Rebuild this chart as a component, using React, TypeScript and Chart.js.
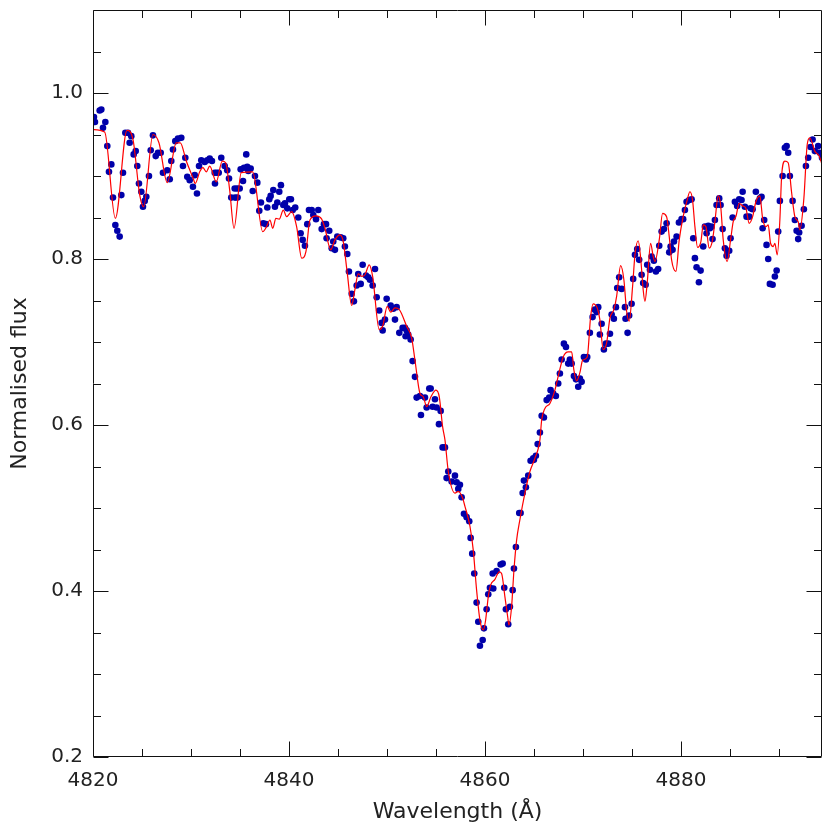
import React, { useEffect, useRef } from 'react';
import { Chart, registerables } from 'chart.js';

Chart.register(...registerables);

// Tick values (wavelength in Å, normalised flux)
const xMajorTicks = [4820, 4840, 4860, 4880];
const xMinorTicks = [4825, 4830, 4835, 4845, 4850, 4855, 4865, 4870, 4875, 4885, 4890];
const yMajorTicks = [0.2, 0.4, 0.6, 0.8, 1.0];
const yMinorTicks = [0.25, 0.3, 0.35, 0.45, 0.5, 0.55, 0.65, 0.7, 0.75, 0.85, 0.9, 0.95, 1.05];

// Observed spectrum (blue dots)
const obsWave = [
  4820.10, 4820.20, 4820.68, 4820.85, 4821.26, 4821.02, 4821.46, 4821.87, 4821.63, 4822.04,
  4822.28, 4822.48, 4822.72, 4822.89, 4823.06, 4823.30, 4823.57, 4823.91, 4823.74, 4824.36,
  4824.15, 4824.52, 4824.69, 4824.93, 4825.10, 4825.28, 4825.44, 4825.71, 4825.89, 4826.12,
  4826.40, 4826.63, 4826.91, 4827.14, 4827.58, 4827.83, 4827.99, 4828.16, 4828.40, 4828.67,
  4829.01, 4829.42, 4829.18, 4829.62, 4829.87, 4830.20, 4830.61, 4830.38, 4830.82, 4831.05,
  4831.40, 4831.66, 4831.91, 4832.14, 4832.42, 4832.62, 4832.83, 4832.45, 4833.09, 4833.44,
  4833.70, 4833.88, 4834.11, 4834.46, 4834.72, 4834.97, 4834.50, 4834.75, 4835.07, 4835.41,
  4835.31, 4835.64, 4835.74, 4836.09, 4835.85, 4836.53, 4836.77, 4836.30, 4837.14, 4836.97,
  4837.38, 4837.65, 4837.79, 4837.99, 4838.13, 4838.40, 4838.57, 4838.81, 4839.01, 4839.18,
  4839.42, 4839.59, 4839.83, 4840.03, 4840.20, 4840.38, 4840.64, 4840.95, 4841.19, 4841.40,
  4841.63, 4841.87, 4842.04, 4842.32, 4842.48, 4842.76, 4842.99, 4843.34, 4843.57, 4843.78,
  4844.11, 4843.84, 4844.36, 4844.69, 4844.52, 4844.93, 4845.28, 4845.54, 4845.71, 4845.95,
  4846.12, 4846.40, 4846.63, 4846.91, 4847.07, 4847.32, 4847.52, 4847.86, 4848.09, 4848.27,
  4848.54, 4848.95, 4849.97, 4848.78, 4849.21, 4849.46, 4849.80, 4849.56, 4850.38, 4850.64,
  4850.99, 4850.82, 4851.26, 4851.60, 4851.84, 4852.01, 4851.90, 4852.17, 4852.42, 4852.62,
  4852.86, 4853.03, 4853.37, 4853.88, 4854.32, 4854.46, 4854.05, 4853.47, 4854.90, 4854.66,
  4855.07, 4855.48, 4855.31, 4855.68, 4855.92, 4856.26, 4856.09, 4856.60, 4856.94, 4857.11,
  4857.45, 4857.28, 4857.62, 4857.86, 4858.13, 4858.40, 4858.54, 4858.70, 4858.91, 4859.15,
  4859.32, 4859.90, 4859.77, 4859.49, 4860.17, 4860.34, 4860.51, 4860.85, 4860.79, 4861.19,
  4861.60, 4861.81, 4861.97, 4862.14, 4862.55, 4862.38, 4862.83, 4862.96, 4863.16, 4863.50,
  4863.64, 4863.85, 4864.18, 4863.98, 4864.42, 4864.66, 4864.93, 4865.20, 4865.00, 4865.38,
  4865.61, 4865.79, 4866.02, 4866.30, 4866.56, 4866.70, 4866.97, 4867.24, 4867.48, 4867.65,
  4867.83, 4868.06, 4868.27, 4868.50, 4868.67, 4868.85, 4869.08, 4869.29, 4869.69, 4869.52,
  4869.87, 4870.10, 4870.44, 4870.31, 4870.71, 4870.99, 4871.22, 4871.56, 4871.40, 4871.91,
  4871.73, 4872.14, 4872.35, 4872.58, 4872.76, 4872.93, 4873.16, 4873.37, 4874.29, 4874.56,
  4874.35, 4874.72, 4874.97, 4875.13, 4873.50, 4873.95, 4873.70, 4875.31, 4875.54, 4875.74,
  4875.99, 4876.15, 4876.40, 4876.56, 4876.84, 4877.01, 4877.24, 4877.45, 4877.68, 4877.79,
  4878.03, 4878.27, 4878.54, 4878.81, 4879.15, 4878.95, 4879.29, 4879.56, 4879.80, 4880.07,
  4880.23, 4880.41, 4880.58, 4880.85, 4881.09, 4881.26, 4881.43, 4881.60, 4882.01, 4881.84,
  4882.28, 4882.45, 4882.79, 4882.96, 4883.13, 4882.62, 4883.23, 4883.47, 4883.64, 4883.91,
  4884.05, 4884.26, 4884.49, 4884.72, 4884.93, 4884.66, 4885.07, 4885.28, 4885.51, 4885.74,
  4885.95, 4886.19, 4886.30, 4886.53, 4886.70, 4886.97, 4887.11, 4887.32, 4887.65, 4887.89,
  4888.06, 4888.23, 4888.34, 4888.50, 4888.74, 4888.91, 4889.77, 4889.59, 4889.08, 4889.36,
  4889.93, 4890.10, 4890.38, 4891.12, 4890.61, 4890.79, 4890.95, 4891.40, 4891.63, 4891.81,
  4892.07, 4891.97, 4892.32, 4892.55, 4892.76, 4892.99, 4893.23, 4893.44, 4893.67, 4894.01,
  4894.18, 4894.40,
];

const obsFlux = [
  0.971, 0.965, 0.979, 0.980, 0.965, 0.958, 0.936, 0.914, 0.905, 0.874,
  0.841, 0.834, 0.827, 0.877, 0.904, 0.952, 0.952, 0.948, 0.940, 0.930,
  0.926, 0.912, 0.891, 0.881, 0.863, 0.870, 0.875, 0.900, 0.931, 0.949,
  0.924, 0.928, 0.928, 0.904, 0.907, 0.896, 0.918, 0.932, 0.942, 0.945,
  0.946, 0.922, 0.912, 0.899, 0.895, 0.887, 0.879, 0.901, 0.912, 0.919,
  0.917, 0.919, 0.921, 0.918, 0.904, 0.904, 0.904, 0.891, 0.922, 0.912,
  0.907, 0.897, 0.874, 0.885, 0.885, 0.885, 0.874, 0.874, 0.908, 0.910,
  0.894, 0.926, 0.911, 0.909, 0.906, 0.900, 0.892, 0.882, 0.868, 0.858,
  0.843, 0.842, 0.862, 0.872, 0.876, 0.883, 0.863, 0.868, 0.881, 0.889,
  0.865, 0.867, 0.861, 0.872, 0.872, 0.859, 0.862, 0.850, 0.831, 0.823,
  0.816, 0.842, 0.859, 0.859, 0.853, 0.848, 0.859, 0.836, 0.842, 0.842,
  0.834, 0.825, 0.813, 0.811, 0.821, 0.827, 0.826, 0.825, 0.815, 0.806,
  0.785, 0.758, 0.749, 0.768, 0.782, 0.770, 0.793, 0.780, 0.778, 0.775,
  0.768, 0.754, 0.752, 0.788, 0.738, 0.723, 0.727, 0.714, 0.744, 0.740,
  0.742, 0.727, 0.711, 0.717, 0.717, 0.714, 0.707, 0.709, 0.703, 0.677,
  0.658, 0.633, 0.635, 0.633, 0.644, 0.644, 0.621, 0.612, 0.631, 0.622,
  0.621, 0.617, 0.601, 0.573, 0.573, 0.544, 0.536, 0.532, 0.539, 0.531,
  0.528, 0.523, 0.513, 0.493, 0.489, 0.484, 0.464, 0.445, 0.421, 0.386,
  0.363, 0.355, 0.341, 0.334, 0.378, 0.396, 0.404, 0.403, 0.421, 0.424,
  0.432, 0.433, 0.404, 0.378, 0.381, 0.360, 0.401, 0.427, 0.453, 0.494,
  0.494, 0.518, 0.525, 0.533, 0.539, 0.557, 0.560, 0.563, 0.558, 0.577,
  0.591, 0.611, 0.609, 0.630, 0.633, 0.642, 0.638, 0.635, 0.650, 0.662,
  0.679, 0.698, 0.694, 0.674, 0.679, 0.674, 0.659, 0.655, 0.656, 0.646,
  0.652, 0.682, 0.682, 0.679, 0.711, 0.730, 0.739, 0.742, 0.736, 0.722,
  0.709, 0.691, 0.698, 0.698, 0.710, 0.733, 0.728, 0.742, 0.742, 0.711,
  0.728, 0.732, 0.746, 0.776, 0.765, 0.764, 0.778, 0.805, 0.812, 0.799,
  0.781, 0.771, 0.769, 0.793, 0.787, 0.803, 0.798, 0.785, 0.788, 0.816,
  0.833, 0.836, 0.843, 0.808, 0.811, 0.815, 0.821, 0.827, 0.844, 0.848,
  0.848, 0.859, 0.869, 0.871, 0.872, 0.825, 0.801, 0.790, 0.786, 0.772,
  0.815, 0.839, 0.840, 0.837, 0.839, 0.831, 0.824, 0.847, 0.865, 0.873,
  0.865, 0.836, 0.813, 0.810, 0.810, 0.804, 0.825, 0.850, 0.869, 0.864,
  0.872, 0.871, 0.881, 0.863, 0.851, 0.851, 0.861, 0.860, 0.881, 0.869,
  0.873, 0.875, 0.837, 0.847, 0.817, 0.800, 0.786, 0.779, 0.770, 0.769,
  0.833, 0.870, 0.900, 0.900, 0.934, 0.936, 0.928, 0.870, 0.847, 0.834,
  0.832, 0.824, 0.840, 0.860, 0.912, 0.922, 0.935, 0.944, 0.930, 0.936,
  0.928, 0.922,
];

// Model spectrum (red line)
const modelWave = [
  4820.00, 4821.19, 4822.28, 4823.47, 4824.08, 4824.77, 4825.17, 4826.12, 4826.73, 4827.58,
  4828.50, 4828.91, 4829.52, 4830.20, 4830.44, 4830.89, 4831.22, 4831.56, 4831.91, 4832.58,
  4833.19, 4833.54, 4833.95, 4834.39, 4835.13, 4836.30, 4837.32, 4837.72, 4838.06, 4838.34,
  4838.67, 4839.01, 4839.42, 4839.76, 4840.28, 4840.78, 4841.30, 4841.73, 4842.14, 4842.76,
  4843.34, 4843.67, 4844.26, 4844.69, 4845.20, 4845.54, 4845.95, 4846.40, 4846.73, 4847.07,
  4847.42, 4847.76, 4848.19, 4848.54, 4849.21, 4849.56, 4850.03, 4850.38, 4850.82, 4851.26,
  4852.01, 4852.52, 4852.86, 4853.37, 4853.71, 4854.05, 4854.49, 4855.00, 4855.34, 4855.68,
  4855.92, 4856.26, 4856.94, 4857.28, 4857.72, 4857.96, 4858.47, 4858.81, 4859.15, 4859.49,
  4859.83, 4860.07, 4860.34, 4860.58, 4861.02, 4861.46, 4861.70, 4862.04, 4862.32, 4862.45,
  4862.72, 4862.96, 4863.23, 4863.57, 4864.08, 4864.59, 4865.10, 4865.61, 4865.79, 4866.12,
  4866.63, 4867.14, 4867.58, 4867.99, 4868.50, 4868.85, 4869.08, 4869.36, 4869.69, 4869.97,
  4870.44, 4870.79, 4871.05, 4871.46, 4871.73, 4872.07, 4872.42, 4872.76, 4873.16, 4873.44,
  4873.85, 4874.18, 4874.46, 4874.72, 4875.07, 4875.31, 4875.64, 4875.88, 4876.15, 4876.33,
  4876.56, 4876.91, 4877.17, 4877.35, 4877.79, 4878.13, 4878.54, 4878.81, 4879.05, 4879.49,
  4879.83, 4880.23, 4880.64, 4880.92, 4881.19, 4881.43, 4881.70, 4882.04, 4882.28, 4882.55,
  4882.89, 4883.23, 4883.47, 4883.81, 4884.05, 4884.32, 4884.72, 4885.07, 4885.34, 4885.61,
  4885.95, 4886.30, 4886.63, 4886.97, 4887.32, 4887.65, 4888.06, 4888.34, 4888.67, 4888.91,
  4889.15, 4889.42, 4889.59, 4889.83, 4890.10, 4890.28, 4890.61, 4890.95, 4891.29, 4891.63,
  4891.97, 4892.14, 4892.55, 4892.89, 4893.16, 4893.67, 4894.11, 4894.50,
];

const modelFlux = [
  0.956, 0.953, 0.849, 0.955, 0.944, 0.877, 0.863, 0.950, 0.940, 0.892,
  0.940, 0.940, 0.918, 0.898, 0.891, 0.905, 0.910, 0.905, 0.912, 0.893,
  0.918, 0.916, 0.883, 0.837, 0.904, 0.905, 0.833, 0.839, 0.847, 0.837,
  0.849, 0.848, 0.859, 0.851, 0.857, 0.839, 0.801, 0.809, 0.847, 0.852,
  0.848, 0.837, 0.811, 0.823, 0.829, 0.821, 0.783, 0.744, 0.763, 0.782,
  0.779, 0.781, 0.793, 0.779, 0.715, 0.719, 0.743, 0.736, 0.741, 0.739,
  0.719, 0.705, 0.678, 0.638, 0.634, 0.622, 0.634, 0.642, 0.634, 0.598,
  0.582, 0.544, 0.518, 0.520, 0.512, 0.502, 0.478, 0.449, 0.401, 0.365,
  0.353, 0.365, 0.393, 0.407, 0.414, 0.423, 0.421, 0.393, 0.369, 0.359,
  0.381, 0.425, 0.461, 0.486, 0.518, 0.544, 0.560, 0.582, 0.606, 0.620,
  0.626, 0.642, 0.664, 0.682, 0.688, 0.688, 0.666, 0.653, 0.663, 0.678,
  0.682, 0.731, 0.746, 0.741, 0.727, 0.691, 0.699, 0.729, 0.739, 0.755,
  0.792, 0.775, 0.737, 0.725, 0.767, 0.805, 0.822, 0.803, 0.763, 0.749,
  0.771, 0.819, 0.803, 0.797, 0.823, 0.855, 0.851, 0.827, 0.799, 0.785,
  0.823, 0.851, 0.871, 0.881, 0.871, 0.839, 0.814, 0.821, 0.841, 0.839,
  0.813, 0.823, 0.845, 0.876, 0.865, 0.823, 0.797, 0.823, 0.845, 0.851,
  0.867, 0.864, 0.861, 0.843, 0.851, 0.869, 0.876, 0.849, 0.839, 0.841,
  0.819, 0.815, 0.819, 0.805, 0.847, 0.900, 0.918, 0.916, 0.881, 0.851,
  0.845, 0.835, 0.873, 0.938, 0.946, 0.930, 0.924, 0.910,
];

const FONT = "'DejaVu Sans', sans-serif";
const TEXT_COLOR = '#222';

const framePlugin = {
  id: 'idlFrame',
  afterDraw(chart: any) {
    const { ctx, chartArea } = chart;
    const { left, right, top, bottom } = chartArea;
    const xs = chart.scales.x;
    const ys = chart.scales.y;
    const MAJOR = 15;
    const MINOR = 7.5;
    ctx.save();
    ctx.strokeStyle = '#111';
    ctx.lineWidth = 1;
    ctx.beginPath();
    const l = Math.round(left) + 0.5;
    const r = Math.round(right) - 0.5;
    const t = Math.round(top) + 0.5;
    const b = Math.round(bottom) - 0.5;
    ctx.rect(l, t, r - l, b - t);
    const xTick = (v: number, len: number) => {
      const px = Math.round(xs.getPixelForValue(v)) + 0.5;
      ctx.moveTo(px, b);
      ctx.lineTo(px, b - len);
      ctx.moveTo(px, t);
      ctx.lineTo(px, t + len);
    };
    const yTick = (v: number, len: number) => {
      const py = Math.round(ys.getPixelForValue(v)) + 0.5;
      ctx.moveTo(l, py);
      ctx.lineTo(l + len, py);
      ctx.moveTo(r, py);
      ctx.lineTo(r - len, py);
    };
    xMajorTicks.forEach((v) => xTick(v, MAJOR));
    xMinorTicks.forEach((v) => xTick(v, MINOR));
    yMajorTicks.forEach((v) => yTick(v, MAJOR));
    yMinorTicks.forEach((v) => yTick(v, MINOR));
    ctx.stroke();
    ctx.restore();
  },
};

export default function App() {
  const canvasRef = useRef<HTMLCanvasElement | null>(null);

  useEffect(() => {
    if (!canvasRef.current) return;
    const modelData = modelWave.map((x, i) => ({ x, y: modelFlux[i] }));
    const obsData = obsWave.map((x, i) => ({ x, y: obsFlux[i] }));

    const chart = new Chart(canvasRef.current, {
      type: 'scatter',
      data: {
        datasets: [
          {
            label: 'Model',
            data: modelData,
            showLine: true,
            borderColor: '#ff0000',
            borderWidth: 1.2,
            pointRadius: 0,
            cubicInterpolationMode: 'monotone',
            fill: false,
          } as any,
          {
            label: 'Observed',
            data: obsData,
            showLine: false,
            pointRadius: 3.3,
            pointBorderWidth: 0,
            backgroundColor: '#0000aa',
            borderColor: '#0000aa',
          } as any,
        ],
      },
      options: {
        animation: false,
        responsive: false,
        devicePixelRatio: 1,
        layout: { padding: { top: 10, right: 8, left: 0, bottom: 0 } },
        plugins: {
          legend: { display: false },
          tooltip: { enabled: false },
        },
        scales: {
          x: {
            type: 'linear',
            min: 4820,
            max: 4894.4,
            afterBuildTicks: (s: any) => {
              s.ticks = xMajorTicks.map((v) => ({ value: v }));
            },
            afterFit: (s: any) => {
              s.height = 73;
              s.paddingLeft = 0;
              s.paddingRight = 0;
            },
            grid: { display: false, drawTicks: false, tickLength: 0 },
            border: { display: false },
            ticks: {
              padding: 12,
              color: TEXT_COLOR,
              font: { family: FONT, size: 20 },
              maxRotation: 0,
              autoSkip: false,
              callback: (v: any) => String(Math.round(Number(v))),
            },
            title: {
              display: true,
              text: 'Wavelength (Å)',
              color: TEXT_COLOR,
              font: { family: FONT, size: 22, lineHeight: 1.2 },
              padding: { top: 0, bottom: 5 },
            },
          },
          y: {
            type: 'linear',
            min: 0.2,
            max: 1.1,
            afterBuildTicks: (s: any) => {
              s.ticks = yMajorTicks.map((v) => ({ value: v }));
            },
            afterFit: (s: any) => {
              s.width = 93;
              s.paddingTop = 0;
              s.paddingBottom = 0;
            },
            grid: { display: false, drawTicks: false, tickLength: 0 },
            border: { display: false },
            ticks: {
              padding: 10,
              color: TEXT_COLOR,
              font: { family: FONT, size: 20 },
              autoSkip: false,
              callback: (v: any) => Number(v).toFixed(1),
            },
            title: {
              display: true,
              text: 'Normalised flux',
              color: TEXT_COLOR,
              font: { family: FONT, size: 22, lineHeight: 1.2 },
              padding: { top: 7, bottom: 0 },
            },
          },
        },
      },
      plugins: [framePlugin],
    });

    return () => {
      chart.destroy();
    };
  }, []);

  return (
    <div style={{ position: 'absolute', left: 0, top: 0, width: 830, height: 830, background: '#fff' }}>
      <canvas ref={canvasRef} width={830} height={830} style={{ display: 'block' }} />
    </div>
  );
}
